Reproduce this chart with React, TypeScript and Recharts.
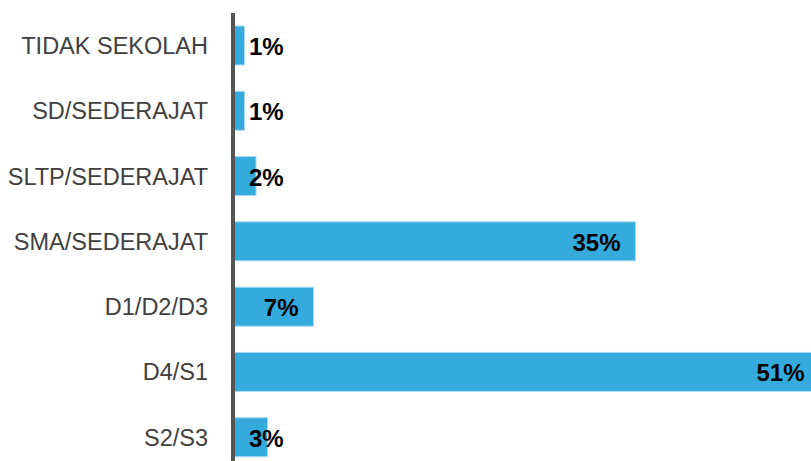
import React from 'react';
import { BarChart, Bar, XAxis, YAxis, LabelList } from 'recharts';

const categories = [
  'TIDAK SEKOLAH',
  'SD/SEDERAJAT',
  'SLTP/SEDERAJAT',
  'SMA/SEDERAJAT',
  'D1/D2/D3',
  'D4/S1',
  'S2/S3',
];
const percentages = [1, 1, 2, 35, 7, 51, 3];

const data = categories.map((name, i) => ({ name, value: percentages[i] }));

const renderLabel = (props: any) => {
  const { x, y, width, height, value } = props;
  const small = width < 60;
  return (
    <text
      x={small ? x + 16 : x + width - 15}
      y={y + height / 2 + 1}
      textAnchor={small ? 'start' : 'end'}
      dominantBaseline="central"
      fontFamily="'Liberation Sans', Arial, sans-serif"
      fontWeight="bold"
      fontSize={24}
      fill="#000000"
    >
      {value}%
    </text>
  );
};

export default function App() {
  return (
    <div
      style={{
        position: 'absolute',
        left: 0,
        top: 0,
        width: 811,
        height: 461,
        overflow: 'hidden',
        background: '#ffffff',
      }}
    >
      <BarChart
        width={900}
        height={475}
        data={data}
        layout="vertical"
        margin={{ top: 13, right: 0, bottom: 5, left: 0 }}
        barSize={39}
      >
        <XAxis type="number" domain={[0, 58]} hide />
        <YAxis
          type="category"
          dataKey="name"
          width={233}
          tickLine={false}
          tickSize={0}
          tickMargin={25}
          axisLine={{ stroke: '#555555', strokeWidth: 4 }}
          tick={{
            fill: '#404040',
            fontSize: 23.5,
            fontFamily: "'Liberation Sans', Arial, sans-serif",
          }}
        />
        <Bar
          dataKey="value"
          fill="#34abdc"
          stroke="#a9daf1"
          strokeWidth={1}
          isAnimationActive={false}
        >
          <LabelList dataKey="value" content={renderLabel} />
        </Bar>
      </BarChart>
    </div>
  );
}
